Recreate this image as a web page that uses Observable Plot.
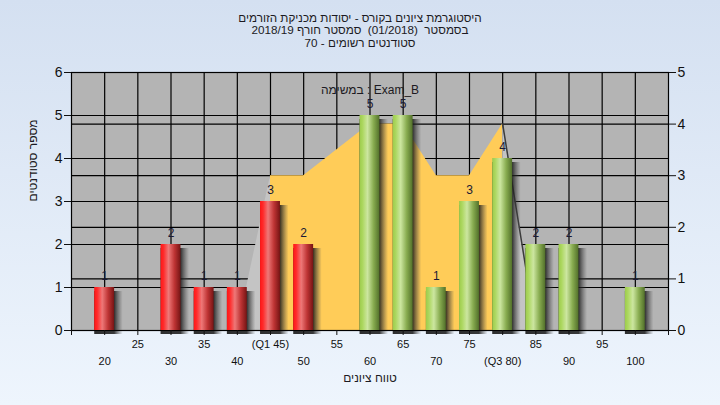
<!DOCTYPE html>
<html><head><meta charset="utf-8">
<script src="https://cdn.jsdelivr.net/npm/d3@7"></script>
<script src="https://cdn.jsdelivr.net/npm/@observablehq/plot@0.6"></script>
<style>
body{margin:0;}
#wrap{position:relative;width:720px;height:405px;background:linear-gradient(#d4e0f1,#eef5fd);font-family:"Liberation Sans",Arial,sans-serif;overflow:hidden;}
#title{position:absolute;top:11.5px;left:0;width:720px;text-align:center;font-size:11.7px;line-height:12.5px;color:#1c1a22;direction:rtl;white-space:pre;}
#chart{position:absolute;top:0;left:0;}
</style></head><body>
<div id="wrap"><div id="title"></div><div id="chart"></div></div>
<script>
// ---- data ----
const titleLines = [
  "היסטוגרמת ציונים בקורס - יסודות מכניקת הזורמים",
  "בסמסטר  (01/2018)  סמסטר חורף 2018/19",
  "סטודנטים רשומים - 70"
];
const examLabel = "במשימה : Exam_B";
const yAxisLabel = "מספר סטודנטים";
const xAxisLabel = "טווח ציונים";

const gradeBins     = [20, 30, 35, 40, 45, 50, 60, 65, 70, 75, 80, 85, 90, 100];
const studentCounts = [ 1,  2,  1,  1,  3,  2,  5,  5,  1,  3,  4,  2,  2,   1];
const passGrade = 55;

// background curve (right axis, 0..5)
const curveGrades = [45, 50, 60, 65, 70, 75, 80];
const curveValues = [ 3,  3,  4,  4,  3,  3,  4];
const rampLeftGrades  = [40, 45];
const rampLeftValues  = [ 0,  3];
const rampRightGrades = [80, 85];
const rampRightValues = [ 4,  0];

const xTickValues = [20,25,30,35,40,45,50,55,60,65,70,75,80,85,90,95,100];
const xTickLabels = ["20","25","30","35","40","(Q1 45)","50","55","60","65","70","75","(Q3 80)","85","90","95","100"];
const leftTicks  = [0,1,2,3,4,5,6];
const rightTicks = [0,1,2,3,4,5];

// ---- build ----
document.getElementById("title").innerHTML = titleLines.map(s => `<div>${s}</div>`).join("");

const LMAX = 6, RMAX = 5, k = LMAX / RMAX;
const bars = gradeBins.map((g, i) => ({g, c: studentCounts[i]}));
const failBars = bars.filter(d => d.g < passGrade);
const passBars = bars.filter(d => d.g >= passGrade);
const curve = curveGrades.map((g, i) => ({g, v: curveValues[i] * k}));
const rampL = rampLeftGrades.map((g, i) => ({g, v: rampLeftValues[i] * k}));
const rampR = rampRightGrades.map((g, i) => ({g, v: rampRightValues[i] * k}));
const labelOf = new Map(xTickValues.map((v, i) => [v, xTickLabels[i]]));
const row1 = xTickValues.filter((v, i) => i % 2 === 1);
const row2 = xTickValues.filter((v, i) => i % 2 === 0);
const allTicks = d3.range(15, 106, 5);
const halfW = 1.5;

const plot = Plot.plot({
  width: 720, height: 405,
  marginTop: 72, marginBottom: 75, marginLeft: 71, marginRight: 52,
  style: {background: "transparent", fontFamily: "'Liberation Sans', Arial, sans-serif", color: "#111", overflow: "visible"},
  x: {domain: [15, 105]},
  y: {domain: [0, LMAX]},
  marks: [
    Plot.frame({fill: "#b4b4b4", stroke: "none"}),
    Plot.gridY(leftTicks, {stroke: "#000", strokeOpacity: 1, strokeWidth: 1.2}),
    Plot.gridY(rightTicks.map(d => d * k), {stroke: "#000", strokeOpacity: 1, strokeWidth: 1.2}),
    Plot.gridX(xTickValues, {stroke: "#000", strokeOpacity: 1, strokeWidth: 1.2}),
    Plot.areaY(curve, {x: "g", y: "v", fill: "#ffcc58"}),
    Plot.areaY(rampL, {x: "g", y: "v", fill: "#c4c4c4"}),
    Plot.areaY(rampR, {x: "g", y: "v", fill: "#c4c4c4"}),
    Plot.line(rampR, {x: "g", y: "v", stroke: "#3c3c3c", strokeWidth: 1.5}),
    Plot.frame({stroke: "#000", strokeWidth: 1.2}),
    Plot.rect(bars, {x1: d => d.g - halfW, x2: d => d.g + halfW + 1.3, y1: 0, y2: "c", fill: "url(#gShadow)", dy: 4, ariaLabel: "shadow"}),
    Plot.rect(failBars, {x1: d => d.g - halfW, x2: d => d.g + halfW, y1: 0, y2: "c", fill: "url(#gRed)"}),
    Plot.rect(passBars, {x1: d => d.g - halfW, x2: d => d.g + halfW, y1: 0, y2: "c", fill: "url(#gGreen)"}),
    Plot.text(bars, {x: "g", y: "c", text: d => String(d.c), dy: -11.5, fontSize: 12, fill: "#1a1a36"}),
    Plot.text([examLabel], {frameAnchor: "top", dy: 13, fontSize: 12, fill: "#1c1a22"}),
    Plot.ruleY([0], {stroke: "#000", strokeWidth: 1.2}),
    Plot.axisY(leftTicks, {anchor: "left", tickSize: 7, tickPadding: 2, fontSize: 14, label: null}),
    Plot.axisY(rightTicks.map(d => d * k), {anchor: "right", tickSize: 7, tickPadding: 2, fontSize: 14, label: null, tickFormat: d => String(Math.round(d / k))}),
    Plot.axisX(allTicks, {tickSize: 5, tickFormat: () => "", label: null}),
    Plot.axisX(row1, {tickSize: 0, tickPadding: 10, fontSize: 11, label: null, tickFormat: d => labelOf.get(d)}),
    Plot.axisX(row2, {tickSize: 0, tickPadding: 27, fontSize: 11, label: null, tickFormat: d => labelOf.get(d)}),
    Plot.text([xAxisLabel], {frameAnchor: "bottom", dy: 51, fontSize: 12, fill: "#1c1a22"}),
    Plot.text([yAxisLabel], {frameAnchor: "left", dx: -38, rotate: -90, fontSize: 12, fill: "#1c1a22"})
  ]
});

const svg = d3.select(plot);
const defs = svg.insert("defs", ":first-child");
function grad(id, stops) {
  const g = defs.append("linearGradient").attr("id", id).attr("x1", 0).attr("x2", 1).attr("y1", 0).attr("y2", 0);
  stops.forEach(([o, c, a]) => g.append("stop").attr("offset", o).attr("stop-color", c).attr("stop-opacity", a == null ? 1 : a));
}
grad("gRed", [[0, "#ff1616"], [0.15, "#ff2a2a"], [0.4, "#ee7878"], [0.7, "#be3434"], [1, "#761414"]]);
grad("gGreen", [[0, "#9ccb4c"], [0.15, "#acd75f"], [0.4, "#cce6a0"], [0.7, "#88ac50"], [1, "#52702a"]]);
grad("gShadow", [[0, "#181818", 0.9], [0.7, "#181818", 0.85], [0.85, "#383838", 0.45], [1, "#505050", 0]]);
defs.append("filter").attr("id", "blur").attr("x", "-10%").attr("y", "-10%").attr("width", "120%").attr("height", "120%")
  .append("feGaussianBlur").attr("stdDeviation", 1.6);
svg.selectAll('g[aria-label="shadow"]').attr("filter", "url(#blur)");

document.getElementById("chart").appendChild(plot);
</script>
</body></html>
